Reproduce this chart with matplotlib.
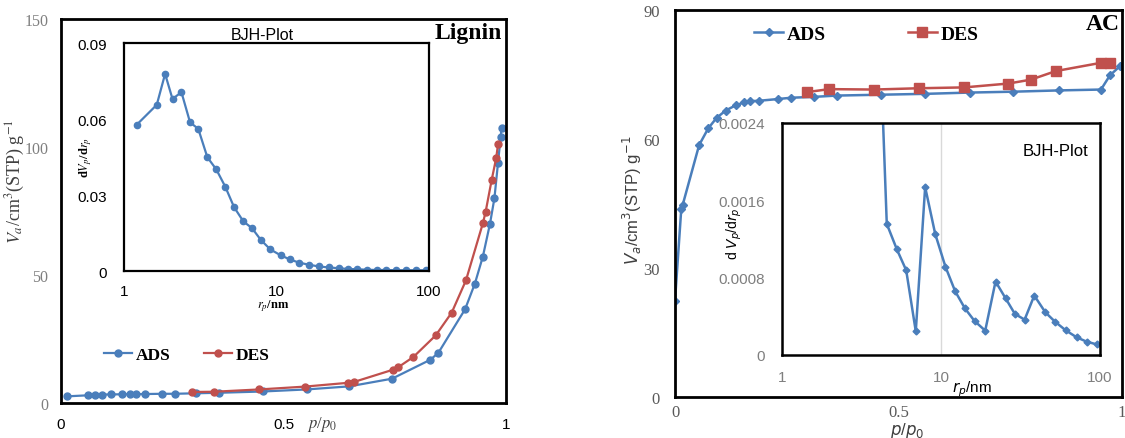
import numpy as np
import matplotlib
matplotlib.use("Agg")
import matplotlib.pyplot as plt

BLUE = "#4a7ebb"
RED = "#c0504d"
GRAY = "#7f7f7f"
SERIF = "Liberation Serif"
SANS = "Liberation Sans"

# ---- Lignin: N2 isotherm ----
lig_ads_p = [0.014, 0.060, 0.076, 0.092, 0.112, 0.136, 0.154, 0.168, 0.188, 0.228, 0.256,
             0.304, 0.356, 0.454, 0.552, 0.648, 0.744, 0.830, 0.848, 0.908, 0.930, 0.948,
             0.964, 0.974, 0.982, 0.988, 0.990]
lig_ads_v = [2.6, 3.0, 3.25, 3.3, 3.35, 3.4, 3.45, 3.45, 3.5, 3.6, 3.6,
             3.8, 4.0, 4.5, 5.3, 6.5, 9.5, 16.9, 19.6, 36.6, 46.6, 57.2,
             70.0, 80.0, 93.7, 104.0, 107.5]
lig_des_p = [0.294, 0.344, 0.446, 0.548, 0.646, 0.658, 0.746, 0.758, 0.792, 0.842, 0.878,
             0.910, 0.948, 0.954, 0.968, 0.978, 0.982]
lig_des_v = [4.3, 4.4, 5.3, 6.4, 7.9, 8.2, 13.0, 14.0, 18.0, 26.4, 35.3,
             47.9, 70.2, 74.5, 87.3, 95.7, 101.0]

# ---- Lignin: BJH pore size distribution ----
lig_bjh_r = [1.21, 1.64, 1.86, 2.08, 2.38, 2.71, 3.07, 3.52, 4.03, 4.62, 5.27, 6.06, 6.91,
             7.91, 9.12, 10.65, 12.2, 14.05, 16.25, 18.9, 22.0, 25.6, 29.4, 33.9, 39.0,
             45.4, 52.5, 60.8, 70.7, 82.6, 96.0]
lig_bjh_dv = [0.0577, 0.0656, 0.0778, 0.0679, 0.0706, 0.0587, 0.0561, 0.0449, 0.0401,
              0.0332, 0.0252, 0.0196, 0.0169, 0.0122, 0.0085, 0.0062, 0.0046, 0.0033,
              0.0025, 0.0018, 0.0014, 0.0011, 0.0008, 0.0007, 0.0005, 0.0004, 0.0004,
              0.0003, 0.0003, 0.0003, 0.0003]

# ---- AC: N2 isotherm ----
ac_ads_p = [0.0, 0.014, 0.017, 0.054, 0.0745, 0.093, 0.113, 0.137, 0.155, 0.168, 0.189,
            0.231, 0.260, 0.311, 0.362, 0.460, 0.560, 0.660, 0.756, 0.859, 0.953, 0.973,
            0.996]
ac_ads_v = [22.4, 43.7, 44.6, 58.6, 62.5, 64.9, 66.6, 67.9, 68.5, 68.8, 68.9,
            69.3, 69.6, 69.8, 70.1, 70.3, 70.5, 70.8, 71.0, 71.3, 71.5, 74.8,
            77.0]
ac_des_p = [0.295, 0.345, 0.445, 0.545, 0.647, 0.746, 0.796, 0.852, 0.952, 0.974]
ac_des_v = [70.9, 71.6, 71.5, 71.8, 72.0, 72.9, 73.8, 75.8, 77.7, 77.6]

# ---- AC: BJH pore size distribution ----
ac_bjh_r = [3.96, 4.56, 5.27, 6.04, 6.94, 7.95, 9.19, 10.67, 12.27, 14.13, 16.25, 18.97,
            22.03, 25.47, 29.15, 33.57, 38.6, 45.3, 52.1, 60.8, 71.3, 82.4, 95.3]
ac_bjh_dv = [0.00411, 0.001357, 0.001095, 0.000877, 0.000245, 0.001737, 0.001254,
             0.000912, 0.000660, 0.000483, 0.000352, 0.000252, 0.000760, 0.000587,
             0.000425, 0.000366, 0.000615, 0.000442, 0.000345, 0.000256, 0.000183,
             0.000138, 0.000110]

W, H = 1125, 439
fig = plt.figure(figsize=(W / 100, H / 100), dpi=100)


def box(x0, y0, x1, y1):
    # pixel box (top-left origin) -> figure fraction rect
    return [x0 / W, 1 - y1 / H, (x1 - x0) / W, (y1 - y0) / H]


def frame(ax, lw):
    for s in ax.spines.values():
        s.set_linewidth(lw)
        s.set_color("black")
    ax.tick_params(length=0)


def style_ticks(ax, axis, family, size, color, pad):
    ax.tick_params(axis=axis, pad=pad, labelsize=size, labelcolor=color)
    labels = ax.get_xticklabels() if axis == "x" else ax.get_yticklabels()
    for t in labels:
        t.set_fontfamily(family)


def ftext(x, y, s, **kw):
    fig.text(x / W, 1 - y / H, s, **kw)


# ================= Lignin =================
ax1 = fig.add_axes(box(61, 20, 506, 404))
ax1.plot(lig_ads_p, lig_ads_v, "-o", color=BLUE, lw=1.6, ms=5, label="ADS")
ax1.plot(lig_des_p, lig_des_v, "-o", color=RED, lw=1.6, ms=5, label="DES")
ax1.set_xlim(0, 1)
ax1.set_ylim(0, 150)
ax1.set_xticks([0, 0.5, 1])
ax1.set_xticklabels(["0", "0.5", "1"])
ax1.set_yticks([0, 50, 100, 150])
frame(ax1, 2.0)
style_ticks(ax1, "x", SANS, 11, "black", 10)
style_ticks(ax1, "y", SERIF, 11.5, GRAY, 9)
ax1.legend(loc="center left", bbox_to_anchor=((104 - 61) / 445, (404 - 356) / 384),
           ncol=2, frameon=False, borderpad=0, borderaxespad=0, handlelength=1.6,
           handletextpad=0.25, columnspacing=1.9,
           prop={"family": SERIF, "weight": "bold", "size": 12.5})
ax1.text(0.99, 0.965, "Lignin", transform=ax1.transAxes, ha="right", va="center",
         fontfamily=SERIF, fontweight="bold", fontsize=17)
ftext(15, 182, r"$V_a$/cm$^3$(STP) g$^{-1}$", rotation=90, ha="center", va="center",
      fontfamily=SERIF, math_fontfamily="stix", fontsize=13, color="#404040")
ftext(322, 425, r"$p$/$p_0$", ha="center", va="center", fontfamily=SERIF,
      math_fontfamily="stix", fontsize=12, color="#404040")

in1 = fig.add_axes(box(124, 44, 429, 272))
in1.plot(lig_bjh_r, lig_bjh_dv, "-o", color=BLUE, lw=1.6, ms=4.5)
in1.set_xscale("log")
in1.set_xlim(1, 100)
in1.set_ylim(0, 0.09)
in1.set_xticks([1, 10, 100])
in1.set_xticklabels(["1", "10", "100"])
in1.minorticks_off()
in1.set_yticks([0, 0.03, 0.06, 0.09])
in1.set_yticklabels(["0", "0.03", "0.06", "0.09"])
frame(in1, 1.6)
style_ticks(in1, "x", SANS, 11, "black", 9)
style_ticks(in1, "y", SANS, 11, "black", 12)
ftext(262, 35, "BJH-Plot", ha="center", va="center", fontfamily=SANS, fontsize=11.5)
ftext(86, 157, r"d$V_p$/d$r_p$", rotation=90, ha="center", va="center",
      fontfamily=SERIF, math_fontfamily="stix", fontsize=9, fontweight="bold")
ftext(273, 306, r"$r_p$/nm", ha="center", va="center", fontfamily=SERIF,
      math_fontfamily="stix", fontsize=9, fontweight="bold")

# ================= AC =================
ax2 = fig.add_axes(box(675, 11, 1122, 398))
ax2.plot(ac_ads_p, ac_ads_v, "-D", color=BLUE, lw=1.8, ms=4, label="ADS")
ax2.plot(ac_des_p, ac_des_v, "-s", color=RED, lw=1.8, ms=6.5, label="DES")
ax2.set_xlim(0, 1)
ax2.set_ylim(0, 90)
ax2.set_xticks([0, 0.5, 1])
ax2.set_xticklabels(["0", "0.5", "1"])
ax2.set_yticks([0, 30, 60, 90])
frame(ax2, 2.0)
style_ticks(ax2, "x", SERIF, 12, "#595959", 5)
style_ticks(ax2, "y", SERIF, 12, "#595959", 11)
ax2.legend(loc="center left", bbox_to_anchor=((754 - 675) / 447, (398 - 35) / 387),
           ncol=2, frameon=False, borderpad=0, borderaxespad=0, handlelength=1.5,
           handletextpad=0.2, columnspacing=4.2,
           prop={"family": SERIF, "weight": "bold", "size": 14})
ax2.text(0.995, 0.965, "AC", transform=ax2.transAxes, ha="right", va="center",
         fontfamily=SERIF, fontweight="bold", fontsize=17)
ftext(632, 200, r"$V_a$/cm$^3$(STP) g$^{-1}$", rotation=90, ha="center", va="center",
      fontfamily=SANS, math_fontfamily="dejavusans", fontsize=12, color="#404040")
ftext(907, 431, r"$p$/$p_0$", ha="center", va="center", fontfamily=SANS,
      math_fontfamily="dejavusans", fontsize=12, color="#404040")

in2 = fig.add_axes(box(782, 124, 1100, 356))
in2.set_facecolor("white")
in2.plot(ac_bjh_r, ac_bjh_dv, "-D", color=BLUE, lw=1.8, ms=3.5)
in2.set_xscale("log")
in2.set_xlim(1, 100)
in2.set_ylim(0, 0.0024)
in2.set_xticks([1, 10, 100])
in2.set_xticklabels(["1", "10", "100"])
in2.minorticks_off()
in2.grid(axis="x", which="major", color="#d9d9d9", lw=1.0)
in2.set_axisbelow(True)
in2.set_yticks([0, 0.0008, 0.0016, 0.0024])
in2.set_yticklabels(["0", "0.0008", "0.0016", "0.0024"])
frame(in2, 1.8)
style_ticks(in2, "x", SANS, 11, GRAY, 11)
style_ticks(in2, "y", SANS, 11, GRAY, 12)
in2.text(0.86, 0.88, "BJH-Plot", transform=in2.transAxes, ha="center", va="center",
         fontfamily=SANS, fontsize=12)
ftext(734, 234, r"d $V_p$/d$r_p$", rotation=90, ha="center", va="center",
      fontfamily=SANS, math_fontfamily="dejavusans", fontsize=10)
ftext(972, 389, r"$r_p$/nm", ha="center", va="center", fontfamily=SANS,
      math_fontfamily="dejavusans", fontsize=11)

fig.savefig("out.png", dpi=100)
